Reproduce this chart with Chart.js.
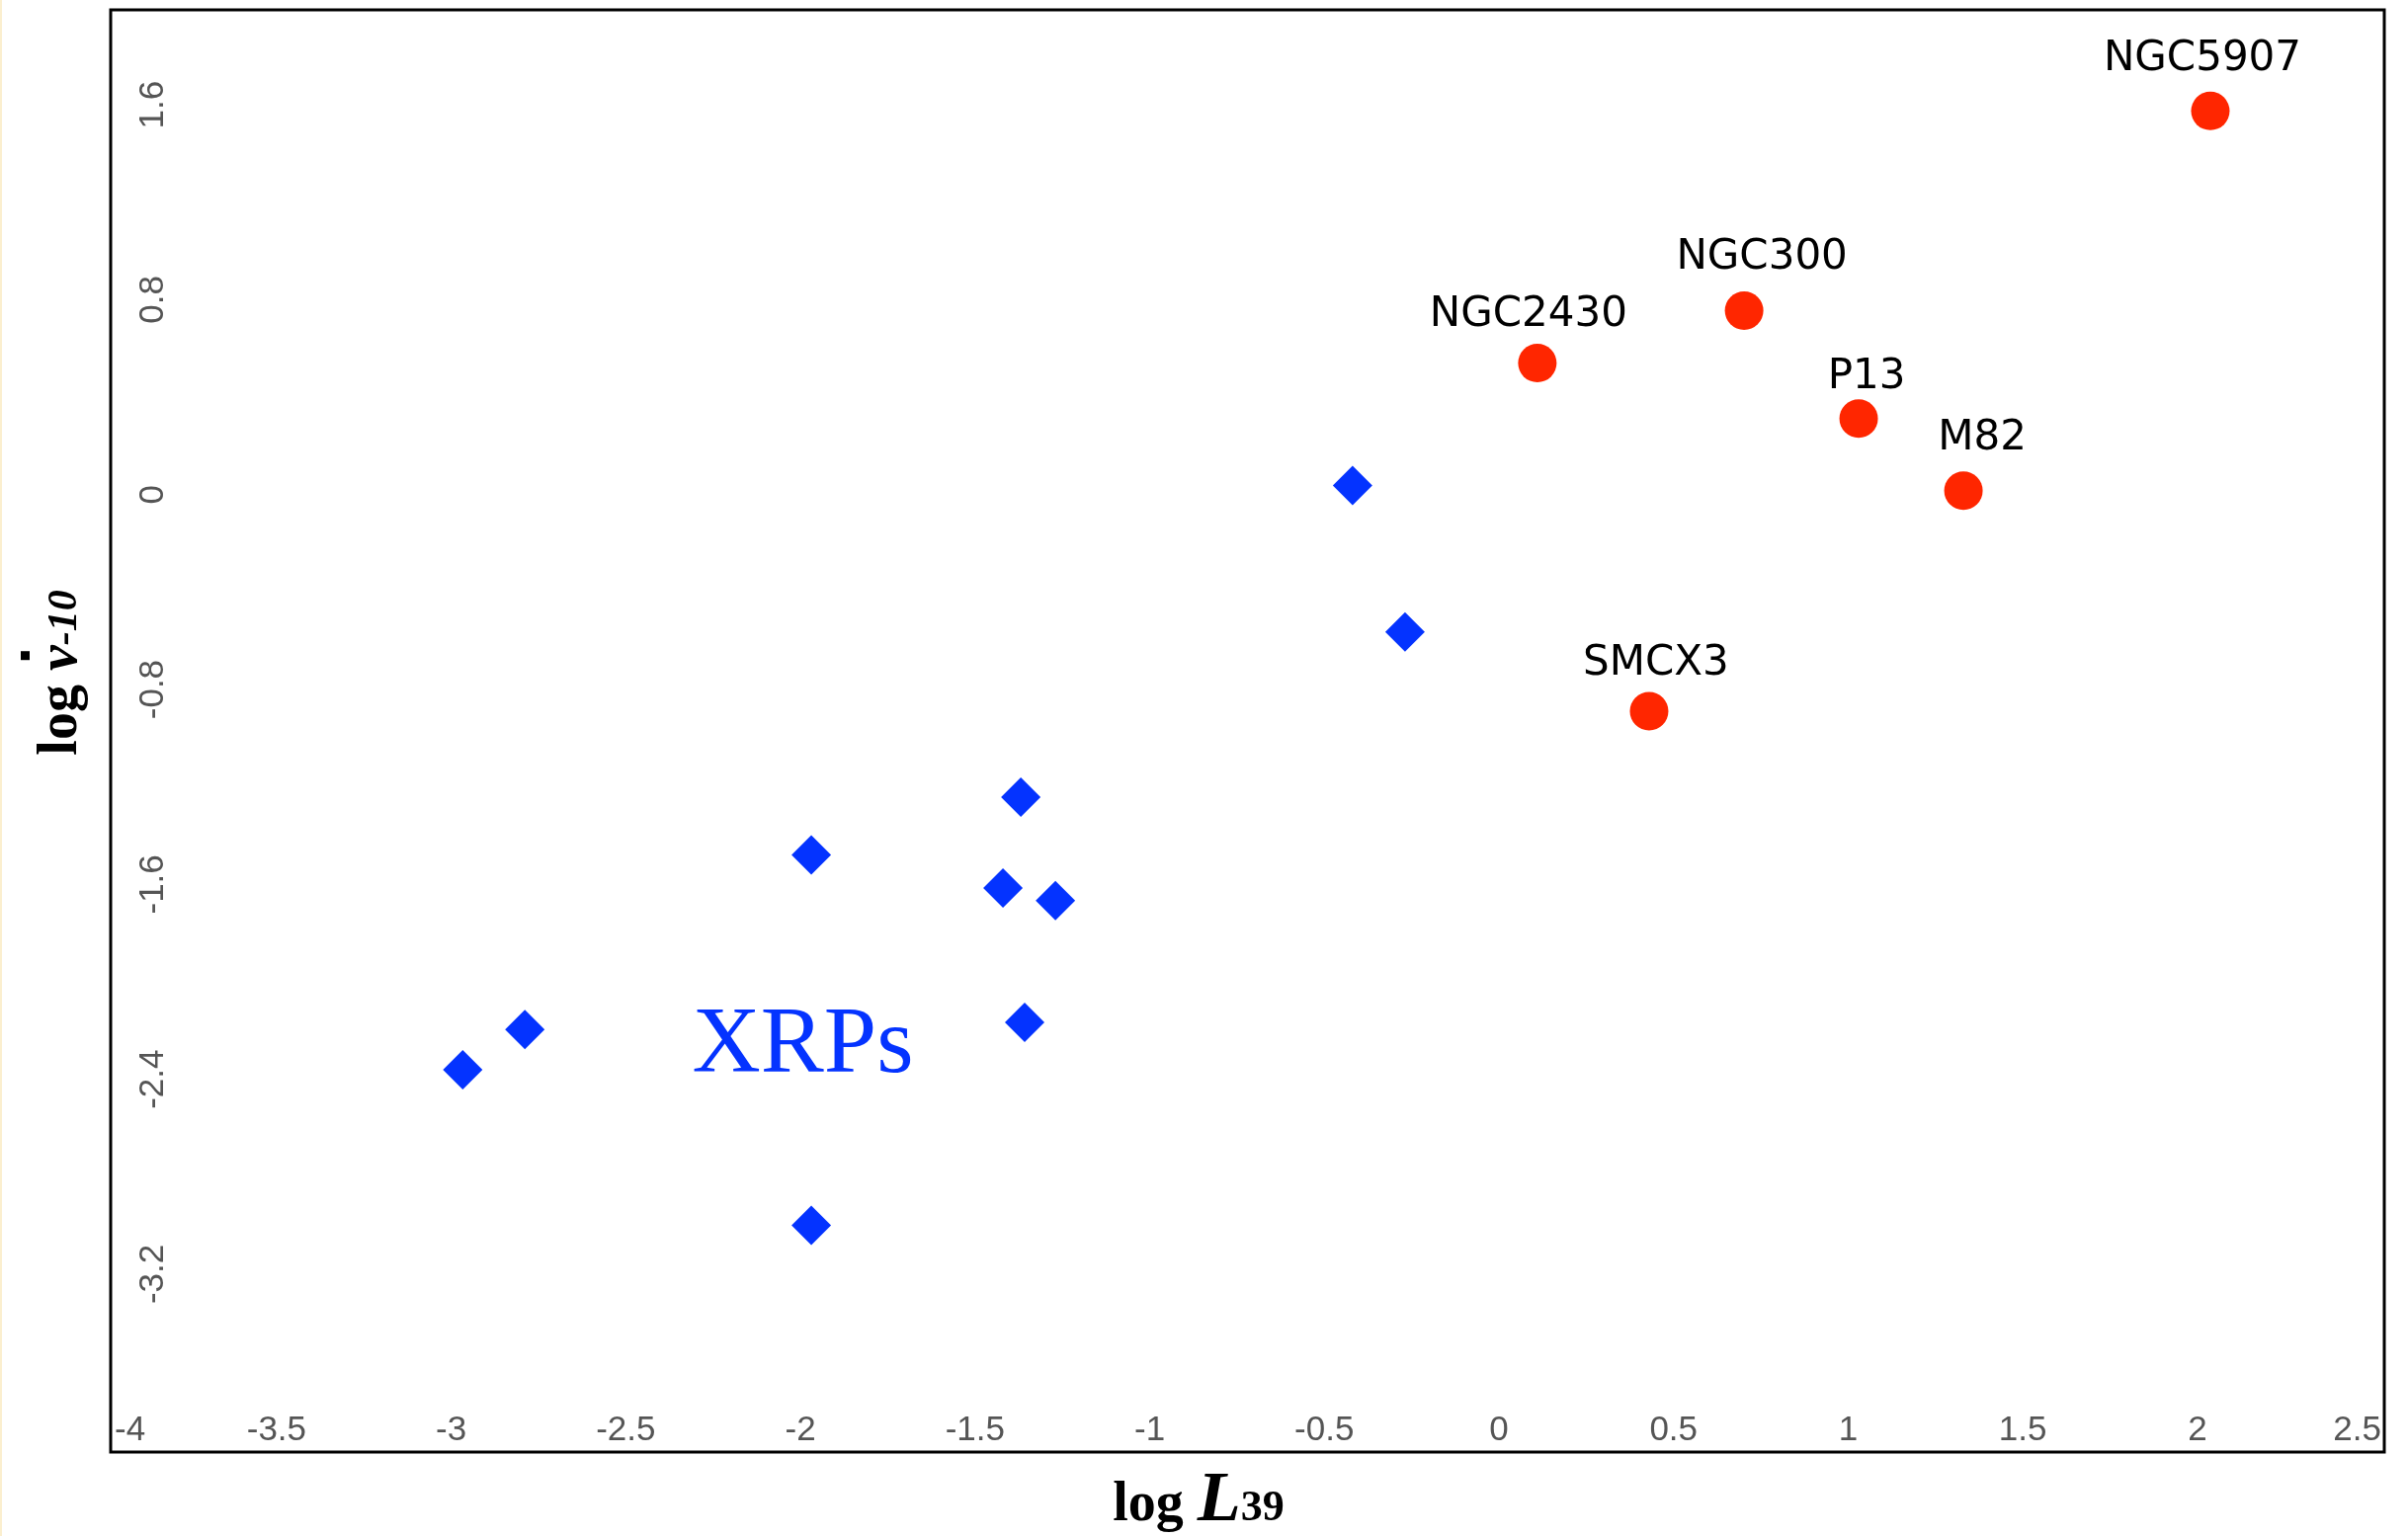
<!DOCTYPE html>
<html lang="en">
<head>
    <meta charset="UTF-8">
    <title>log nu-dot vs log L39</title>
    <script src="https://cdn.jsdelivr.net/npm/chart.js"></script>
    <style>
        body {
            margin: 0;
            background: #ffffff;
        }
        .wrap {
            position: relative;
            width: 2437px;
            height: 1555px;
            overflow: hidden;
        }
        .inner {
            position: absolute; /* shifted up: chart.js keeps room for the big markers at the top */
            left: 0;
            top: -10px;
            width: 2437px;
            height: 1565px;
        }
        .edge {
            position: absolute; /* thin cream strip on the left edge */
            left: 0;
            top: 0;
            width: 2px;
            height: 1555px;
            background: #fbefcf;
        }
    </style>
</head>
<body>
<div class="wrap">
    <div class="inner"><canvas id="chart"></canvas></div>
    <div class="edge"></div>
</div>
<script>
    // ULX pulsars (red circles)
    var ulxNames = ['NGC5907', 'NGC300', 'NGC2430', 'P13', 'M82', 'SMCX3'];
    var ulxL = [2.037, 0.702, 0.110, 1.030, 1.330, 0.430];
    var ulxNu = [1.575, 0.755, 0.540, 0.312, 0.016, -0.889];

    // X-ray pulsars (blue diamonds)
    var xrpL = [-0.419, -0.269, -1.369, -1.969, -1.420, -1.270, -1.358, -2.789, -2.967, -1.969];
    var xrpNu = [0.038, -0.564, -1.242, -1.479, -1.615, -1.666, -2.166, -2.196, -2.361, -2.999];

    // tick labels
    var xTicks = [-4, -3.5, -3, -2.5, -2, -1.5, -1, -0.5, 0, 0.5, 1, 1.5, 2, 2.5];
    var yTicks = [1.6, 0.8, 0, -0.8, -1.6, -2.4, -3.2];

    // label offsets from each red marker (px), and the XRPs group label
    var nameOffsets = [[-8, -41], [18, -43], [-9, -38], [8, -31], [19, -42], [7, -37]];
    var groupLabel = { text: 'XRPs', x: -2.31, y: -2.37 };

    var RED = '#ff2600';
    var BLUE = '#0433ff';
    var SERIF = '"Liberation Serif", "Times New Roman", serif';

    function pts(xs, ys) {
        return xs.map(function (x, i) { return { x: x, y: ys[i] }; });
    }

    // draws frame, tick labels, point names and axis titles
    var decor = {
        id: 'decor',
        afterDraw: function (chart) {
            var ctx = chart.ctx;
            var a = chart.chartArea;
            var xs = chart.scales.x;
            var ys = chart.scales.y;

            ctx.save();
            ctx.strokeStyle = '#000';
            ctx.lineWidth = 3;
            ctx.strokeRect(a.left, a.top, a.right - a.left, a.bottom - a.top);

            // x tick labels, inside the frame
            ctx.fillStyle = '#555';
            ctx.font = '35px "Liberation Sans", Arial, sans-serif';
            ctx.textBaseline = 'alphabetic';
            xTicks.forEach(function (v, i) {
                var px = xs.getPixelForValue(v);
                ctx.textAlign = 'center';
                if (i === 0) { ctx.textAlign = 'left'; px = a.left + 4; }
                if (i === xTicks.length - 1) { ctx.textAlign = 'right'; px = a.right - 3; }
                ctx.fillText(String(v), px, a.bottom - 12);
            });

            // y tick labels, rotated, inside the frame
            yTicks.forEach(function (v) {
                var py = ys.getPixelForValue(v);
                ctx.save();
                ctx.translate(a.left + 53, py);
                ctx.rotate(-Math.PI / 2);
                ctx.textAlign = 'center';
                ctx.fillText(String(v), 0, 0);
                ctx.restore();
            });

            // names of the red points
            ctx.fillStyle = '#000';
            ctx.font = '42px "DejaVu Sans", Verdana, sans-serif';
            ctx.textAlign = 'center';
            var meta = chart.getDatasetMeta(0);
            meta.data.forEach(function (el, i) {
                var o = nameOffsets[i];
                ctx.fillText(ulxNames[i], el.x + o[0], el.y + o[1]);
            });

            // XRPs group label
            ctx.fillStyle = BLUE;
            ctx.font = '96px ' + SERIF;
            ctx.textAlign = 'left';
            ctx.fillText(groupLabel.text, xs.getPixelForValue(groupLabel.x), ys.getPixelForValue(groupLabel.y));

            // x axis title: log L39
            ctx.fillStyle = '#000';
            var parts = [
                { t: 'log ', f: 'bold 56px ' + SERIF },
                { t: 'L', f: 'italic bold 72px ' + SERIF },
                { t: '39', f: 'bold 44px ' + SERIF }
            ];
            var total = 0;
            parts.forEach(function (p) { ctx.font = p.f; p.w = ctx.measureText(p.t).width; total += p.w; });
            var cx = a.left + 1101 - total / 2;
            parts.forEach(function (p) {
                ctx.font = p.f;
                ctx.fillText(p.t, cx, a.bottom + 69);
                cx += p.w;
            });

            // y axis title: log nu-dot -10, rotated
            ctx.save();
            ctx.translate(77, a.top + 671);
            ctx.rotate(-Math.PI / 2);
            var yparts = [
                { t: 'log ', f: 'bold 56px ' + SERIF },
                { t: 'ν', f: 'italic bold 58px ' + SERIF, dot: true },
                { t: '-10', f: 'italic bold 42px ' + SERIF }
            ];
            total = 0;
            yparts.forEach(function (p) { ctx.font = p.f; p.w = ctx.measureText(p.t).width; total += p.w; });
            cx = -total / 2;
            yparts.forEach(function (p) {
                ctx.font = p.f;
                ctx.fillText(p.t, cx, 0);
                if (p.dot) {
                    ctx.fillRect(cx + p.w / 2 - 2, -56, 9, 9);
                }
                cx += p.w;
            });
            ctx.restore();

            ctx.restore();
        }
    };

    new Chart(document.getElementById('chart'), {
        type: 'scatter',
        data: {
            datasets: [{
                label: 'ULX pulsars',
                data: pts(ulxL, ulxNu),
                pointStyle: 'circle',
                pointRadius: 19.5,
                pointBorderWidth: 0,
                backgroundColor: RED,
                borderColor: RED
            }, {
                label: 'XRPs',
                data: pts(xrpL, xrpNu),
                pointStyle: 'rectRot',
                pointRadius: 20,
                pointBorderWidth: 0,
                backgroundColor: BLUE,
                borderColor: BLUE
            }]
        },
        options: {
            responsive: true,
            maintainAspectRatio: false,
            animation: false,
            layout: {
                padding: { left: 112, top: 20, right: 24, bottom: 85 }
            },
            plugins: {
                legend: { display: false },
                tooltip: { enabled: false }
            },
            scales: {
                x: { type: 'linear', min: -3.975, max: 2.535, display: false },
                y: { type: 'linear', min: -3.93, max: 1.99, display: false }
            }
        },
        plugins: [decor]
    });
</script>
</body>
</html>
